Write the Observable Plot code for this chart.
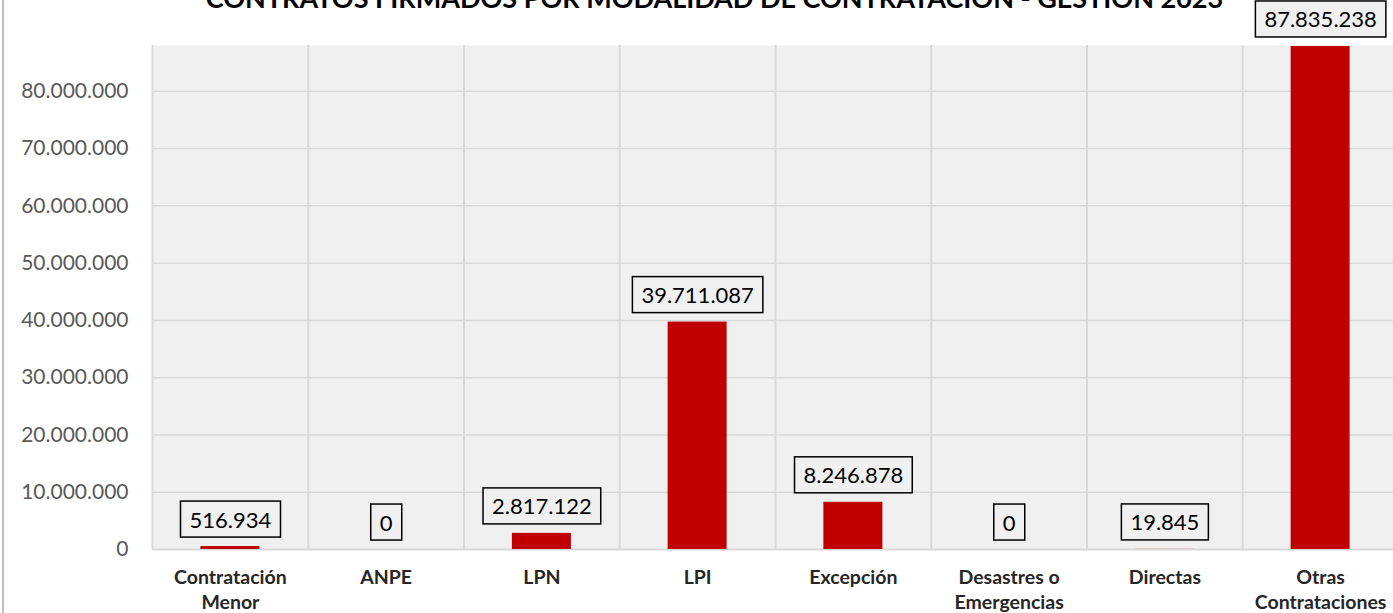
<!DOCTYPE html>
<html>
<head>
<meta charset="utf-8">
<script src="https://cdn.jsdelivr.net/npm/d3@7"></script>
<script src="https://cdn.jsdelivr.net/npm/@observablehq/plot@0.6"></script>
<style>
  html, body { margin: 0; padding: 0; background: #fff; overflow: hidden; }
  #wrap { position: relative; width: 1393px; height: 613px; }
  #edge { position: absolute; left: 2px; top: 0; width: 2px; height: 613px; background: #bfbfbf; }
  #chart svg { display: block; overflow: visible; }
</style>
</head>
<body>
<div id="wrap"><div id="chart"></div><div id="edge"></div></div>
<script>
const title = "CONTRATOS FIRMADOS POR MODALIDAD DE CONTRATACIÓN - GESTIÓN 2023";
const categories = ["Contratación\nMenor", "ANPE", "LPN", "LPI", "Excepción", "Desastres o\nEmergencias", "Directas", "Otras\nContrataciones"];
const values = [516934, 0, 2817122, 39711087, 8246878, 0, 19845, 87835238];
const yTicks = [0, 10000000, 20000000, 30000000, 40000000, 50000000, 60000000, 70000000, 80000000];
const yMax = 88000000;

const data = categories.map((c, i) => ({cat: c, value: values[i]}));
const fmt = d3.formatLocale({decimal: ",", thousands: ".", grouping: [3], currency: ["", ""]}).format(",.0f");

const W = 1393, H = 613, mL = 152, mR = -5, mT = 45, mB = 64;
const bw = (W - mL - mR) / categories.length;
const barW = 59;
const inset = (bw - barW) / 2;

const chart = Plot.plot({
  width: W, height: H,
  marginLeft: mL, marginRight: mR, marginTop: mT, marginBottom: mB,
  style: {fontFamily: "Lato, 'Liberation Sans', sans-serif", background: "transparent", overflow: "visible"},
  x: {type: "band", domain: categories, padding: 0, round: false, label: null},
  y: {domain: [0, yMax], label: null},
  marks: [
    Plot.frame({fill: "#f0f0f0", stroke: null}),
    Plot.ruleY(yTicks.slice(1), {stroke: "#d9d9d9", strokeWidth: 1.5}),
    Plot.ruleX(categories, {x: d => d, dx: -bw / 2, stroke: "#d9d9d9", strokeWidth: 2}),
    Plot.ruleY([0], {stroke: "#d9d9d9", strokeWidth: 2}),
    Plot.barY(data, {x: "cat", y: "value", fill: "#c00000", insetLeft: inset, insetRight: inset}),
    Plot.axisY({ticks: yTicks, tickFormat: fmt, tickSize: 0, tickPadding: 24, fontSize: 21, fill: "#595959"}),
    Plot.axisX({tickSize: 0, tickPadding: 16, fontSize: 19.5, fontWeight: "bold", fill: "#262626", lineHeight: 1.3}),
    Plot.text(data, {x: "cat", y: "value", text: d => fmt(d.value), dy: -26, lineAnchor: "middle", fontSize: 22, fill: "#000", className: "vlabel"}),
    Plot.text([title], {frameAnchor: "top", dx: -61, dy: -38, lineAnchor: "bottom", fontSize: 27, fontWeight: "bold", fill: "#000", text: d => d})
  ]
});
document.getElementById("chart").appendChild(chart);

// Draw boxes behind value labels
chart.querySelectorAll(".vlabel text").forEach(t => {
  const b = t.getBBox();
  const tr = t.getAttribute("transform");
  const r = document.createElementNS("http://www.w3.org/2000/svg", "rect");
  const padX = 9, h = 36;
  r.setAttribute("x", b.x - padX);
  r.setAttribute("y", b.y + b.height / 2 - h / 2);
  r.setAttribute("width", b.width + 2 * padX);
  r.setAttribute("height", h);
  r.setAttribute("fill", "#f0f0f0");
  r.setAttribute("stroke", "#000");
  r.setAttribute("stroke-width", "1.5");
  if (tr) r.setAttribute("transform", tr);
  t.parentNode.insertBefore(r, t);
});
</script>
</body>
</html>
